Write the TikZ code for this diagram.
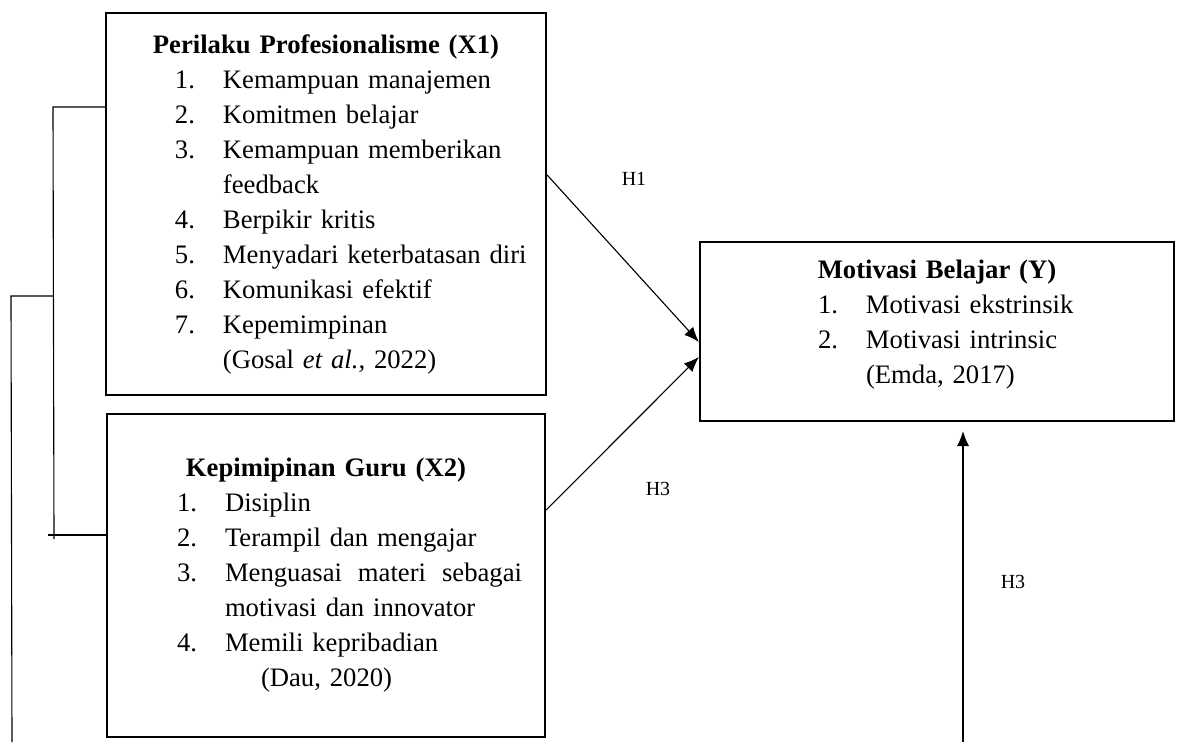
\documentclass[tikz,border=0pt]{standalone}
\usepackage{fontspec}
\setmainfont{Liberation Serif}
\usetikzlibrary{arrows.meta}
\usetikzlibrary{positioning}
\newcommand{\indline}[3]{\hspace*{#1}\makebox[21.6pt][l]{#2}#3}
\newcommand{\boxtitle}[1]{\makebox[\linewidth][c]{\bfseries #1}}

\begin{document}
\begin{tikzpicture}[x=0.45pt,y=-0.45pt,>={Latex[length=6.75pt,width=5.4pt]},
  font=\fontsize{12pt}{15.75pt}\selectfont,
  var node/.style={draw,line width=1pt,inner sep=0pt,align=left},
  link/.style={line width=0.5pt},
  hyp/.style={font=\fontsize{9pt}{11pt}\selectfont,inner sep=0pt}]
\useasboundingbox (0,0) rectangle (1181,742);
%------------------------------------------------------------------------
% The variables
%------------------------------------------------------------------------
\node[var node,text width=198pt,text height=18.4pt,text depth=153.5pt] (X1) at (326,204) {%
\boxtitle{Perilaku Profesionalisme (X1)}\\
\indline{31.05pt}{1.}{Kemampuan manajemen}\\
\indline{31.05pt}{2.}{Komitmen belajar}\\
\indline{31.05pt}{3.}{Kemampuan memberikan}\\
\indline{31.05pt}{}{feedback}\\
\indline{31.05pt}{4.}{Berpikir kritis}\\
\indline{31.05pt}{5.}{Menyadari keterbatasan diri}\\
\indline{31.05pt}{6.}{Komunikasi efektif}\\
\indline{31.05pt}{7.}{Kepemimpinan}\\
\indline{31.05pt}{}{(Gosal \textit{et al.,} 2022)}};
\node[var node,text width=197.1pt,text height=28.2pt,text depth=117.15pt] (X2) [below=7.65pt of X1] {%
\boxtitle{Kepimipinan Guru (X2)}\\
\indline{31.5pt}{1.}{Disiplin}\\
\indline{31.5pt}{2.}{Terampil dan mengajar}\\
\indline{31.5pt}{3.}{\makebox[133.65pt][s]{Menguasai\hfill materi\hfill sebagai}}\\
\indline{31.5pt}{}{motivasi dan innovator}\\
\indline{31.5pt}{4.}{Memili kepribadian}\\
\hspace*{69.3pt}(Dau, 2020)};
\node[var node,text width=213.3pt,text height=16.2pt,text depth=64.35pt] (Y) at (937,331.5) {%
\boxtitle{Motivasi Belajar (Y)}\\
\indline{53.1pt}{1.}{Motivasi ekstrinsik}\\
\indline{53.1pt}{2.}{Motivasi intrinsic}\\
\indline{53.1pt}{}{(Emda, 2017)}};
%------------------------------------------------------------------------
% The hypotheses
%------------------------------------------------------------------------
\coordinate (yfoot) at (963,742);
\draw[link,->] (X1.east |- 0,175) -- (Y.west |- 0,342);
\draw[link,->] (X2.east |- 0,510) -- (Y.west |- 0,357);
\draw[link,->,shorten >=4pt] (yfoot) -- (yfoot |- Y.south);
\node[hyp] (h1) at (634,179) {H1};
\node[hyp] (h3a) at (658,489) {H3};
\node[hyp] (h3b) at (1013,582) {H3};
% The bracket on the left
\coordinate (bTop) at (53,107);
\coordinate (bMid) at (54,539);
\coordinate (bEnd) at (48,535);
\coordinate (bJoin) at (53.5,296);
\coordinate (bOut) at (11,296);
\coordinate (bFoot) at (12,742);
\draw[link] (X1.west |- bTop) -- (bTop) -- (bMid);
\draw[link] (X2.west |- bEnd) -- (bEnd);
\draw[link] (bJoin) -- (bOut) -- (bFoot);

\end{tikzpicture}
\end{document}
